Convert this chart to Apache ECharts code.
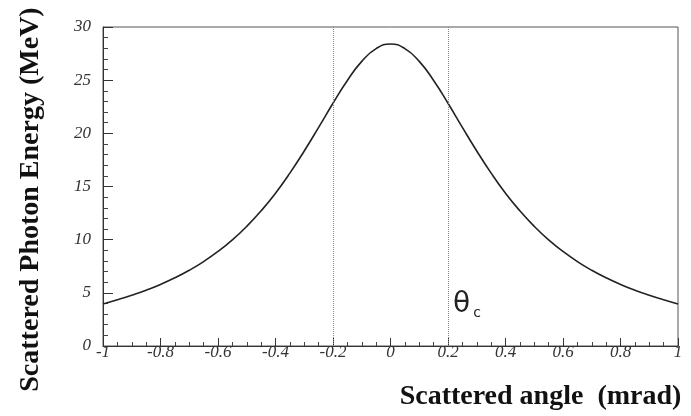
<!DOCTYPE html>
<html>
<head>
<meta charset="utf-8">
<script src="https://cdn.jsdelivr.net/npm/echarts@6/dist/echarts.min.js"></script>
<style>
html,body{margin:0;padding:0;background:#fff;}
#chart{width:691px;height:416px;}
</style>
</head>
<body>
<div id="chart"></div>
<script>
// Scattered angle (mrad)
var angles = [-1.0,-0.95,-0.9,-0.85,-0.8,-0.75,-0.7,-0.65,-0.6,-0.55,-0.5,-0.45,-0.4,-0.35,-0.3,-0.25,-0.2,-0.15,-0.1,-0.05,
              0,0.05,0.1,0.15,0.2,0.25,0.3,0.35,0.4,0.45,0.5,0.55,0.6,0.65,0.7,0.75,0.8,0.85,0.9,0.95,1.0];
// Scattered photon energy (MeV)
var energies = [3.95,4.35,4.78,5.25,5.79,6.41,7.12,7.94,8.89,9.98,11.25,12.71,14.37,16.26,18.34,20.56,22.83,24.97,26.77,27.97,
                28.4,27.97,26.77,24.97,22.83,20.56,18.34,16.26,14.37,12.71,11.25,9.98,8.89,7.94,7.12,6.41,5.79,5.25,4.78,4.35,3.95];
// Critical angle markers
var criticalAngles = [-0.2, 0.2];
var xTitle = 'Scattered angle  (mrad)';
var yTitle = 'Scattered Photon Energy (MeV)';

var chart = echarts.init(document.getElementById('chart'), null, {renderer: 'canvas'});
var tickFont = {fontFamily: 'Liberation Serif', fontStyle: 'italic', fontSize: 17, color: '#333'};
var titleFont = {fontFamily: 'Liberation Serif', fontWeight: 'bold', fontSize: 28, color: '#111'};

chart.setOption({
  animation: false,
  backgroundColor: '#fff',
  grid: {left: 103, right: 13, top: 27, bottom: 69, show: true, borderColor: '#555', borderWidth: 1},
  xAxis: {
    type: 'value', min: -1, max: 1, interval: 0.2,
    name: xTitle, nameLocation: 'middle', nameGap: 37,
    nameTextStyle: Object.assign({}, titleFont, {padding: [0, 0, 0, 300]}),
    axisLine: {show: true, onZero: false, lineStyle: {color: '#333', width: 1}},
    axisTick: {show: true, inside: true, length: 8, lineStyle: {color: '#333'}},
    minorTick: {show: true, splitNumber: 4, length: 4, lineStyle: {color: '#444'}},
    splitLine: {show: false},
    axisLabel: Object.assign({}, tickFont, {margin: -2, formatter: function (v) { return String(Math.round(v * 10) / 10); }})
  },
  yAxis: {
    type: 'value', min: 0, max: 30, interval: 5,
    name: yTitle, nameLocation: 'middle', nameGap: 58, nameRotate: 90,
    nameTextStyle: Object.assign({}, titleFont, {padding: [0, 26, 0, 0]}),
    axisLine: {show: true, onZero: false, lineStyle: {color: '#333', width: 1}},
    axisTick: {show: true, inside: true, length: 10, lineStyle: {color: '#333'}},
    minorTick: {show: true, splitNumber: 5, length: 5, lineStyle: {color: '#444'}},
    splitLine: {show: false},
    axisLabel: Object.assign({}, tickFont, {margin: 12})
  },
  series: [{
    type: 'line',
    data: angles.map(function (a, i) { return [a, energies[i]]; }),
    smooth: true,
    showSymbol: false,
    lineStyle: {color: '#222', width: 1.6},
    markLine: {
      silent: true, symbol: 'none', label: {show: false},
      lineStyle: {type: 'dotted', color: '#888', width: 1},
      data: criticalAngles.map(function (a) { return {xAxis: a}; })
    }
  }],
  graphic: [{
    type: 'text', left: 453, top: 291,
    style: {
      text: '{t|θ}{s|c}',
      rich: {
        t: {fontFamily: 'DejaVu Sans', fontSize: 28, fill: '#222'},
        s: {fontFamily: 'DejaVu Sans', fontSize: 14, fill: '#222', padding: [16, 0, 0, 3]}
      }
    }
  }]
});
</script>
</body>
</html>
